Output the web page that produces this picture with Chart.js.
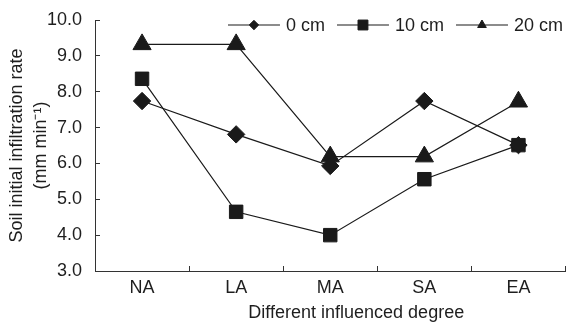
<!DOCTYPE html>
<html><head><meta charset="utf-8">
<script src="https://cdn.jsdelivr.net/npm/chart.js@4.4.0/dist/chart.umd.min.js"></script>
<style>html,body{margin:0;padding:0;background:#fff}#wrap{width:577px;height:323px}</style>
</head><body><div id="wrap"><canvas id="c" width="577" height="323"></canvas></div>
<script>
const categories = ['NA', 'LA', 'MA', 'SA', 'EA'];
const series0cm = [7.74, 6.81, 5.93, 7.74, 6.51];
const series10cm = [8.36, 4.65, 4.00, 5.56, 6.51];
const series20cm = [9.32, 9.32, 6.19, 6.19, 7.72];
const seriesLabels = ['0 cm', '10 cm', '20 cm'];
const yMin = 3, yMax = 10, yStep = 1;
const yTitle = ['Soil initial infiltration rate', '(mm min\u207B\u00B9)'];
const xTitle = 'Different influenced degree';

const FONT = 'Liberation Sans, Arial, Helvetica, sans-serif';
const INK = '#1a1a1a';
const TXT = '#1e1e1e';

const styles = [
  {pointStyle: 'rectRot', radius: 8.7, legendRadius: 4.7},
  {pointStyle: 'rect', radius: 9.5, legendRadius: 7},
  {pointStyle: 'triangle', radius: 10.5, legendRadius: 5}
];

function drawMarker(ctx, style, r, x, y) {
  ctx.beginPath();
  if (style === 'rectRot') {
    ctx.moveTo(x, y - r); ctx.lineTo(x + r, y); ctx.lineTo(x, y + r); ctx.lineTo(x - r, y);
  } else if (style === 'rect') {
    const s = r * Math.SQRT1_2;
    ctx.rect(x - s, y - s, 2 * s, 2 * s);
  } else {
    const a = 2 * Math.PI / 3;
    ctx.moveTo(x, y - r);
    ctx.lineTo(x + Math.sin(a) * r, y - Math.cos(a) * r);
    ctx.lineTo(x + Math.sin(2 * a) * r, y - Math.cos(2 * a) * r);
  }
  ctx.closePath();
  ctx.fill();
  ctx.stroke();
}

const legendPlugin = {
  id: 'lineLegend',
  afterDraw(chart) {
    const ctx = chart.ctx;
    ctx.save();
    ctx.font = '18px ' + FONT;
    const lineLen = 52, gap = 6, spacing = 12;
    const items = chart.data.datasets.map((d, i) => ({label: d.label, w: ctx.measureText(d.label).width, st: styles[i]}));
    let total = items.reduce((s, it) => s + lineLen + gap + it.w, 0) + spacing * (items.length - 1);
    let x = chart.width - 14 - total;
    const y = 25;
    items.forEach(it => {
      ctx.strokeStyle = INK; ctx.fillStyle = INK; ctx.lineWidth = 1.2;
      ctx.beginPath(); ctx.moveTo(x, y); ctx.lineTo(x + lineLen, y); ctx.stroke();
      ctx.lineWidth = 1;
      drawMarker(ctx, it.st.pointStyle, it.st.legendRadius, x + lineLen / 2, y);
      ctx.fillStyle = TXT; ctx.textBaseline = 'middle'; ctx.textAlign = 'left';
      ctx.fillText(it.label, x + lineLen + gap, y + 1);
      x += lineLen + gap + it.w + spacing;
    });
    const ca = chart.chartArea;
    ctx.fillStyle = TXT; ctx.textAlign = 'center'; ctx.textBaseline = 'alphabetic';
    ctx.fillText(xTitle, (ca.left + ca.right) / 2 + 26, 318);
    ctx.restore();
  }
};

const allSeries = [series0cm, series10cm, series20cm];
const datasets = allSeries.map((vals, i) => ({
  label: seriesLabels[i],
  data: vals,
  borderColor: INK,
  backgroundColor: INK,
  borderWidth: 1.2,
  pointStyle: styles[i].pointStyle,
  pointRadius: styles[i].radius,
  pointHoverRadius: styles[i].radius,
  pointBackgroundColor: INK,
  pointBorderColor: INK,
  pointBorderWidth: 1,
  tension: 0,
  fill: false
}));

new Chart(document.getElementById('c'), {
  type: 'line',
  data: {labels: categories, datasets},
  plugins: [legendPlugin],
  options: {
    responsive: false,
    animation: false,
    events: [],
    layout: {padding: {top: 20, left: 0, right: 0, bottom: 0}},
    plugins: {legend: {display: false}, tooltip: {enabled: false}},
    scales: {
      x: {
        type: 'category',
        offset: true,
        grid: {display: true, offset: true, drawOnChartArea: false, drawTicks: true, tickLength: -5, color: '#333'},
        border: {display: true, color: '#333', width: 1},
        ticks: {color: TXT, font: {family: FONT, size: 18}, padding: 11, maxRotation: 0},
        afterFit(scale) { scale.height = 52; scale.paddingLeft = 0; scale.paddingRight = 0; }
      },
      y: {
        min: yMin, max: yMax,
        grid: {display: true, drawOnChartArea: false, drawTicks: true, tickLength: -5, color: '#333'},
        border: {display: true, color: '#333', width: 1},
        ticks: {stepSize: yStep, color: TXT, font: {family: FONT, size: 18}, padding: 18,
          callback: v => Number(v).toFixed(1)},
        title: {display: true, text: yTitle, color: TXT, font: {family: FONT, size: 18, lineHeight: 1.35}, padding: {top: 5, bottom: 0}},
        afterFit(scale) { scale.width = 95; scale.paddingTop = 0; scale.paddingBottom = 0; }
      }
    }
  }
});
</script>
</body></html>
